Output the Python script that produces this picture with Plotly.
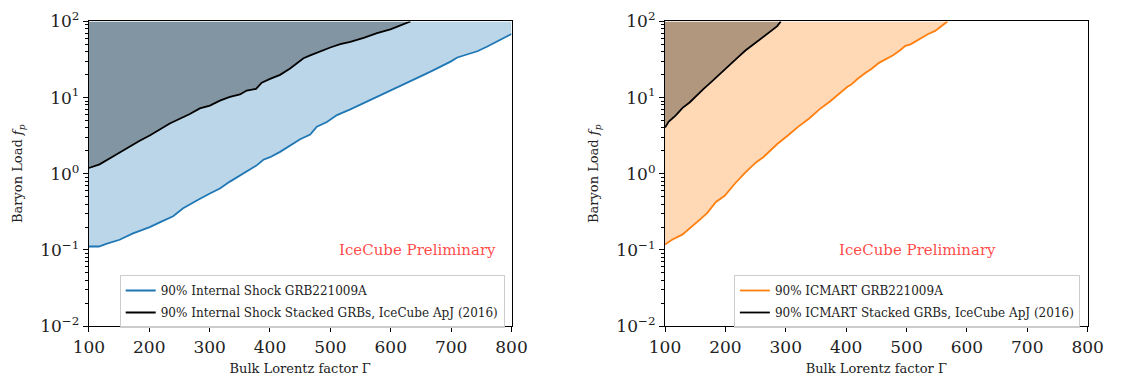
import plotly.graph_objects as go

# ---------------- data ----------------
# Left panel: Internal Shock
is_grb_x = [100, 116.6, 128.8, 150.9, 173.1, 200.8, 217.4, 239.5, 256.1, 267.2, 281.1, 300.4,
            317.0, 333.6, 355.8, 378.0, 389.0, 400.1, 416.7, 433.3, 449.9, 466.6, 477.6, 494.2,
            510.9, 533.0, 549.6, 566.2, 582.8, 599.4, 616.1, 632.7, 649.3, 665.9, 682.5, 699.1,
            710.2, 726.8, 743.4, 760.0, 776.6, 787.7, 800]
is_grb_y = [0.111, 0.111, 0.120, 0.136, 0.165, 0.199, 0.230, 0.277, 0.352, 0.398, 0.455, 0.550,
            0.640, 0.789, 1.00, 1.29, 1.53, 1.65, 1.94, 2.35, 2.84, 3.28, 4.16, 4.79,
            5.90, 7.00, 8.08, 9.49, 10.7, 12.4, 14.6, 16.5, 19.0, 21.9, 25.2, 29.7,
            33.6, 36.9, 40.6, 46.8, 55.0, 62.2, 68.4]

is_stack_x = [100, 117.7, 139.9, 150.9, 167.6, 184.2, 200.8, 217.4, 234.0, 250.6, 267.2, 283.8,
              300.4, 317.0, 333.6, 350.3, 361.4, 376.9, 386.3, 400.1, 416.7, 433.3, 444.4, 455.5,
              466.6, 483.2, 499.8, 516.4, 533.0, 555.1, 577.3, 599.4, 616.1, 632.7]
is_stack_y = [1.19, 1.33, 1.69, 1.91, 2.24, 2.71, 3.18, 3.78, 4.57, 5.27, 6.08, 7.21,
              7.85, 9.14, 10.2, 11.0, 12.4, 13.0, 15.7, 17.6, 19.9, 24.1, 27.8, 32.9,
              35.9, 40.6, 45.5, 50.5, 53.9, 61.0, 70.4, 78.8, 89.2, 100]

# Right panel: ICMART
ic_grb_x = [100, 111.6, 129.1, 140.7, 158.1, 169.7, 184.3, 198.8, 216.2, 233.6, 251.1, 262.7,
            274.3, 285.9, 303.4, 320.8, 338.2, 355.7, 373.1, 390.5, 402.1, 408.0, 419.6, 431.2,
            442.8, 454.4, 466.1, 477.7, 489.3, 498.0, 506.7, 518.4, 535.8, 547.4, 559.0, 567.7]
ic_grb_y = [0.118, 0.136, 0.160, 0.190, 0.252, 0.305, 0.426, 0.514, 0.751, 1.05, 1.42, 1.65,
            2.04, 2.46, 3.18, 4.16, 5.27, 7.00, 8.88, 11.8, 13.9, 14.7, 17.8, 20.9,
            24.1, 28.6, 32.0, 35.9, 41.8, 47.7, 50.0, 56.6, 68.4, 75.2, 89.2, 100]

ic_stack_x = [100, 105.8, 117.4, 129.1, 140.7, 152.3, 163.9, 175.5, 187.2, 198.8, 210.4, 222.0,
              233.6, 245.3, 256.9, 268.5, 274.3, 285.9, 291.7]
ic_stack_y = [4.04, 4.79, 5.79, 7.35, 8.63, 10.7, 13.0, 15.7, 19.0, 23.0, 28.3, 34.5,
              41.8, 49.1, 58.2, 68.4, 75.2, 86.7, 100]

x_range = [100, 800]
y_range = [0.01, 100]
x_ticks = [100, 200, 300, 400, 500, 600, 700, 800]
y_ticks = [0.01, 0.1, 1, 10, 100]
y_ticktext = ["10<sup>\u22122</sup>", "10<sup>\u22121</sup>", "10<sup>0</sup>", "10<sup>1</sup>", "10<sup>2</sup>"]

labels_left = ["90% Internal Shock GRB221009A", "90% Internal Shock Stacked GRBs, IceCube ApJ (2016)"]
labels_right = ["90% ICMART GRB221009A", "90% ICMART Stacked GRBs, IceCube ApJ (2016)"]

FONT = "DejaVu Serif, Liberation Serif, serif"
BLUE = "#1f77b4"
ORANGE = "#ff7f0e"

fig = go.Figure()

def add_panel(xa, ya, grb_x, grb_y, st_x, st_y, color, fillc, labels, legend):
    ymax = y_range[1]
    px = list(grb_x)
    py = list(grb_y)
    if px[-1] < x_range[1]:
        px += [x_range[1]]
        py += [ymax]
    px += [x_range[1], x_range[0]]
    py += [ymax, ymax]
    fig.add_trace(go.Scatter(x=px, y=py, fill="toself", fillcolor=fillc, mode="none",
                             showlegend=False, hoverinfo="skip", xaxis=xa, yaxis=ya))
    sx = list(st_x) + [x_range[0]]
    sy = list(st_y) + [ymax]
    fig.add_trace(go.Scatter(x=sx, y=sy, fill="toself", fillcolor="rgba(0,0,0,0.3)", mode="none",
                             showlegend=False, hoverinfo="skip", xaxis=xa, yaxis=ya))
    fig.add_trace(go.Scatter(x=grb_x, y=grb_y, mode="lines", line=dict(color=color, width=1.8),
                             name=labels[0], legend=legend, legendgroup=legend + "a",
                             xaxis=xa, yaxis=ya))
    fig.add_trace(go.Scatter(x=st_x, y=st_y, mode="lines", line=dict(color="black", width=1.8),
                             name=labels[1], legend=legend, legendgroup=legend + "b",
                             xaxis=xa, yaxis=ya))

add_panel("x", "y", is_grb_x, is_grb_y, is_stack_x, is_stack_y, BLUE, "rgba(31,119,180,0.3)",
          labels_left, "legend")
add_panel("x2", "y2", ic_grb_x, ic_grb_y, ic_stack_x, ic_stack_y, ORANGE, "rgba(255,127,14,0.3)",
          labels_right, "legend2")

W, H = 1126, 388
yd = [(H - 333) / H, (H - 10) / H]
minor_vals = [m * 10 ** e for e in (-2, -1, 0, 1) for m in range(2, 10)]

def xaxis(domain, anchor):
    return dict(domain=domain, anchor=anchor, range=x_range, tickvals=x_ticks,
                showline=True, linecolor="black", linewidth=1.2, mirror=True,
                ticks="outside", ticklen=5, tickwidth=1, tickcolor="black",
                showgrid=False, zeroline=False, ticklabeloverflow="allow",
                tickfont=dict(family=FONT, size=17, color="#222"),
                title=dict(text="Bulk Lorentz factor \u0393", font=dict(family=FONT, size=13, color="#222"),
                           standoff=8))

def yaxis(anchor):
    return dict(domain=yd, anchor=anchor, type="log", range=[-2, 2], tickvals=y_ticks,
                ticktext=y_ticktext, showline=True, linecolor="black", linewidth=1.2, mirror=True,
                ticks="outside", ticklen=5, tickwidth=1, tickcolor="black",
                minor=dict(tickvals=minor_vals, ticks="outside", ticklen=2.5, tickcolor="black",
                           showgrid=False),
                showgrid=False, zeroline=False, ticklabeloverflow="allow",
                tickfont=dict(family=FONT, size=17, color="#222"),
                title=dict(text="Baryon Load <i>f<sub>p</sub></i>", font=dict(family=FONT, size=13, color="#222"),
                           standoff=14))

leg_common = dict(bgcolor="rgba(255,255,255,0.8)", bordercolor="#cccccc", borderwidth=1,
                  font=dict(family=FONT, size=12, color="#222"), xanchor="right", yanchor="bottom",
                  tracegroupgap=3, itemwidth=30)

fig.update_layout(
    width=W, height=H, margin=dict(l=0, r=0, t=0, b=0),
    paper_bgcolor="white", plot_bgcolor="white",
    xaxis=xaxis([75 / W, 510 / W], "y"),
    yaxis=yaxis("x"),
    xaxis2=xaxis([668 / W, 1103 / W], "y2"),
    yaxis2=yaxis("x2"),
    legend=dict(x=503 / W, y=(H - 335) / H, **leg_common),
    legend2=dict(x=1095 / W, y=(H - 335) / H, **leg_common),
    annotations=[
        dict(text="IceCube Preliminary", x=413 / W, y=(H - 252) / H, xref="paper", yref="paper",
             showarrow=False, font=dict(family=FONT, size=15, color="rgba(255,40,40,0.85)")),
        dict(text="IceCube Preliminary", x=1011 / W, y=(H - 252) / H, xref="paper", yref="paper",
             showarrow=False, font=dict(family=FONT, size=15, color="rgba(255,40,40,0.85)")),
    ],
)

fig.write_html("out.html")
